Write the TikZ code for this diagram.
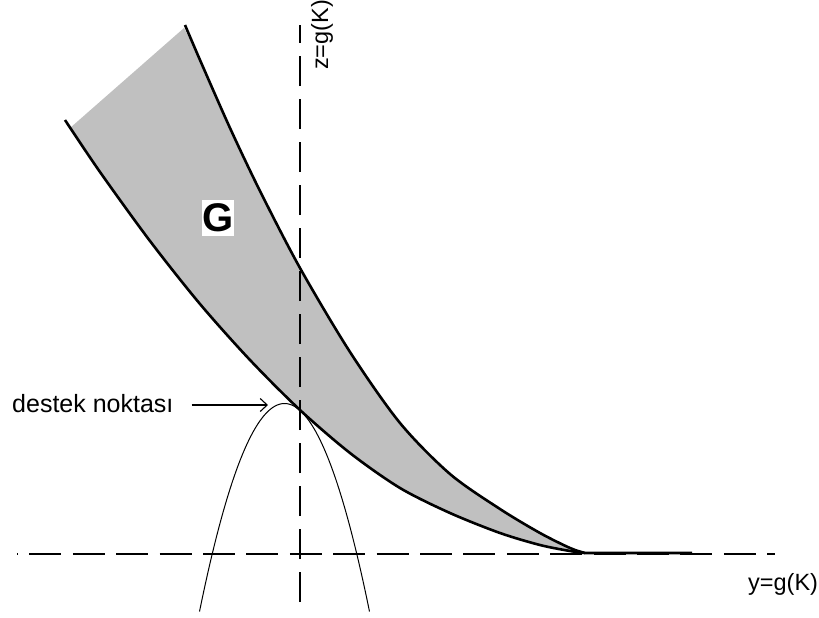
\documentclass[tikz,border=0pt]{standalone}
\usepackage{fontspec}
\setmainfont{Liberation Sans}
\usetikzlibrary{arrows.meta}
\definecolor{fillgray}{RGB}{192,192,192}
\begin{document}
\begin{tikzpicture}[x=1pt,y=-1pt,
  curve/.style={line width=2.6pt,line join=round},
  axisline/.style={line width=1.3pt,dash pattern=on 32pt off 11.4pt},
  thinline/.style={line width=1pt},
  lab/.style={inner sep=0pt,font=\fontsize{25}{30}\selectfont},
  arr/.style={line width=1.1pt,-{Straight Barb[length=7pt,width=13pt]}}]
\useasboundingbox (0,0) rectangle (819,618);
\def\lowerpts{(65,120) (100,172) (150,241) (200,304) (250,360) (300,410) (350,453) (400,488) (450,513) (500,533) (540,545) (570,551) (585,553)}
\def\upperpts{(185,25) (200,60) (230,128) (260,191) (300,268) (350,352) (400,423) (450,474) (500,509) (540,533) (570,548) (585,553)}
% region G
\fill[fillgray] plot[smooth] coordinates {(70,128) (100,172) (150,241) (200,304) (250,360) (300,410) (350,453) (400,488) (450,513) (500,533) (540,545) (570,551) (585,553)}
 -- plot[smooth] coordinates {(585,553) (570,548) (540,533) (500,509) (450,474) (400,423) (350,352) (300,268) (260,191) (230,128) (200,60) (184,28)} -- cycle;
% axes
\coordinate (hl) at (17,554);
\coordinate (hr) at (775,554);
\coordinate (vb) at (300,602);
\coordinate (vt) at (300,25);
\draw[axisline,dash phase=31pt] (hl) -- (hr);
\draw[axisline,dash pattern=on 30pt off 13pt] (vb) -- (vt);
% parabola
\draw[thinline] plot[domain=-85:85,samples=80] ({284.5+\x},{403.5+0.0288*\x*\x});
% boundary curves
\draw[curve] plot[smooth] coordinates {\lowerpts};
\draw[curve] plot[smooth] coordinates {\upperpts} -- (692,553);
% labels
\node[font=\fontsize{40}{44}\selectfont\bfseries,fill=white,inner xsep=0.5pt,inner ysep=4pt] (G) at (218,218) {G};
\node[lab,anchor=base west] (lbl) at (12,412) {destek noktası};
\coordinate (tip) at (268,405);
\draw[arr,shorten <=18pt] (lbl.east |- tip) -- (tip);
\node[lab,anchor=base west,font=\fontsize{23.5}{28}\selectfont] (ylab) at (748,590) {y=g(K)};
\node[lab,anchor=base west,rotate=90,font=\fontsize{23.5}{28}\selectfont] (zlab) at (328,70) {z=g(K)};
\end{tikzpicture}
\end{document}
